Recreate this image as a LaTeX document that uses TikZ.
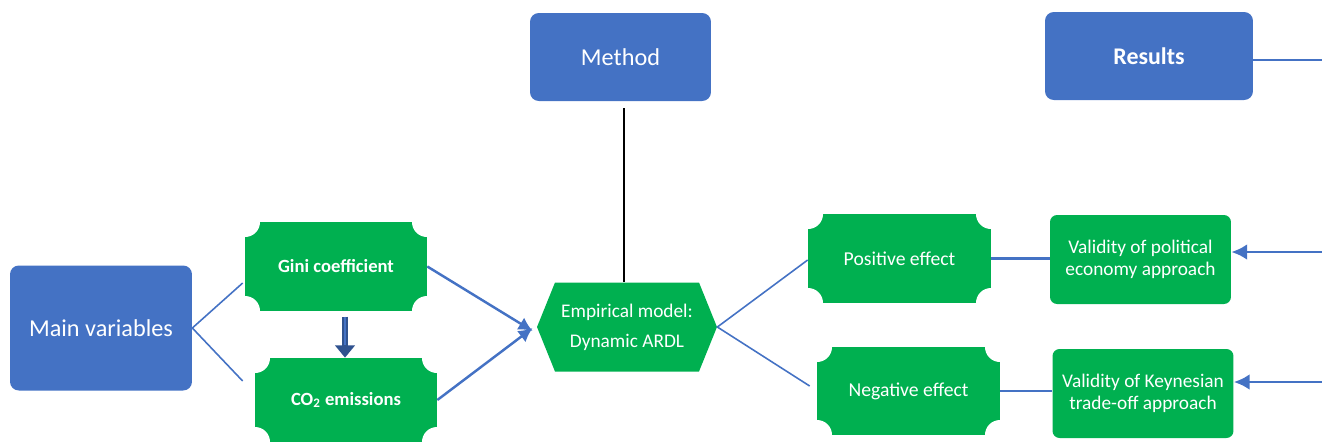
\documentclass[tikz,border=0pt]{standalone}
\usepackage{fontspec}
\setmainfont{Carlito}
\usetikzlibrary{positioning,shapes.symbols,arrows.meta}
\definecolor{boxblue}{HTML}{4472C4}
\definecolor{boxgreen}{HTML}{00B050}
\definecolor{darkblue}{HTML}{2F528F}
\tikzset{
  bluebox/.style={fill=boxblue, rounded corners=5pt, text=white, align=center},
  greenbox/.style={fill=boxgreen, rounded corners=4pt, text=white, align=center,
    font=\fontsize{11}{12.5}\selectfont, minimum width=3.62cm, minimum height=1.78cm},
  plaque/.style={fill=boxgreen, text=white, align=center, minimum width=3.64cm, minimum height=1.78cm,
    path picture={\fill[white] (path picture bounding box.north west) circle (0.3cm)
      (path picture bounding box.north east) circle (0.3cm)
      (path picture bounding box.south west) circle (0.3cm)
      (path picture bounding box.south east) circle (0.3cm);}},
  link/.style={draw=boxblue, line width=0.9pt},
  feed/.style={draw=boxblue, line width=1.4pt, -{Latex[length=8pt,width=8pt]}},
  inflow/.style={draw=boxblue, line width=1.6pt, -{Latex[length=9pt,width=9pt]}},
}

\begin{document}
\begin{tikzpicture}[x=0.02cm,y=-0.02cm]
    \useasboundingbox (0,0) rectangle (1322,441);
    % top row
    \node[bluebox, minimum width=3.64cm, minimum height=2.5cm, font=\fontsize{13.8}{16}\selectfont] (main) at (101,328) {Main variables};
    \node[bluebox, minimum width=3.62cm, minimum height=1.76cm, font=\fontsize{13.8}{16}\selectfont] (method) at (620.5,57) {Method};
    \node[bluebox, minimum width=4.16cm, minimum height=1.76cm, font=\bfseries\fontsize{13.6}{16}\selectfont] (results) at (1149,56) {Results};
    % variables and model
    \node[plaque, font=\bfseries\fontsize{10.6}{12}\selectfont] (gini) at (336,266.5) {Gini coefficient};
    \node[plaque, minimum height=1.68cm, font=\bfseries\fontsize{10.6}{12}\selectfont] (co2) at (346,400) {CO\textsubscript{2} emissions};
    \node[signal, signal to=west and east, signal pointer angle=136, fill=boxgreen, text=white, align=center,
      minimum width=3.6cm, minimum height=1.78cm, font=\fontsize{11}{17}\selectfont] (model) at (627,327) {Empirical model:\\Dynamic ARDL};
    % effects
    \node[plaque, minimum width=3.66cm, font=\fontsize{11.2}{13}\selectfont] (pos) at (899.5,258.5) {Positive effect};
    \node[plaque, minimum width=3.66cm, minimum height=1.76cm, font=\fontsize{11.2}{13}\selectfont] (neg) at (908.5,391) {Negative effect};
    \node[greenbox] (polit) at (1140.5,259.5) {Validity of political\\economy approach};
    \node[greenbox] (keyn) at (1143,393.5) {Validity of Keynesian\\trade-off approach};
    \coordinate (inpol) at (1322,252);
    \coordinate (inkeyn) at (1322,382);
    \coordinate (outres) at (1322,60);

    \draw[link] ([yshift=-0.33cm,xshift=-0.04cm]gini.west) -- (main.east) -- ([xshift=-0.24cm,yshift=0.38cm]co2.west);
    \draw[draw=darkblue, line width=3.6pt, -{Triangle[length=7pt,width=11pt]}, shorten <=3pt]
      ([xshift=0.18cm]gini.south) -- ([xshift=0.18cm]gini.south |- co2.north);
    \draw[draw=boxblue, line width=1.6pt, shorten <=3pt, shorten >=7pt]
      ([xshift=0.18cm]gini.south) -- ([xshift=0.18cm]gini.south |- co2.north);
    \draw[feed] (gini.east) -- ([xshift=-0.08cm,yshift=-0.08cm]model.west);
    \draw[feed] (co2.east) -- ([xshift=-0.08cm,yshift=-0.02cm]model.west);
    \draw[black, line width=0.7pt, shorten <=0.14cm] ([xshift=0.07cm]method.south) -- ([xshift=0.07cm]method.south |- model.north);
    \draw[link] ([yshift=-0.03cm]pos.west) -- (model.east) -- ([xshift=-0.14cm,yshift=0.1cm]neg.west);
    \draw[link, line width=1.2pt] (pos.east) -- (pos.east -| polit.west);
    \draw[link, line width=1.2pt] (neg.east) -- (neg.east -| keyn.west);
    \draw[inflow] (inpol) -- (inpol -| polit.east);
    \draw[inflow] (inkeyn) -- (inkeyn -| keyn.east);
    \draw[link] (results.east |- outres) -- (outres);
\end{tikzpicture}
\end{document}
